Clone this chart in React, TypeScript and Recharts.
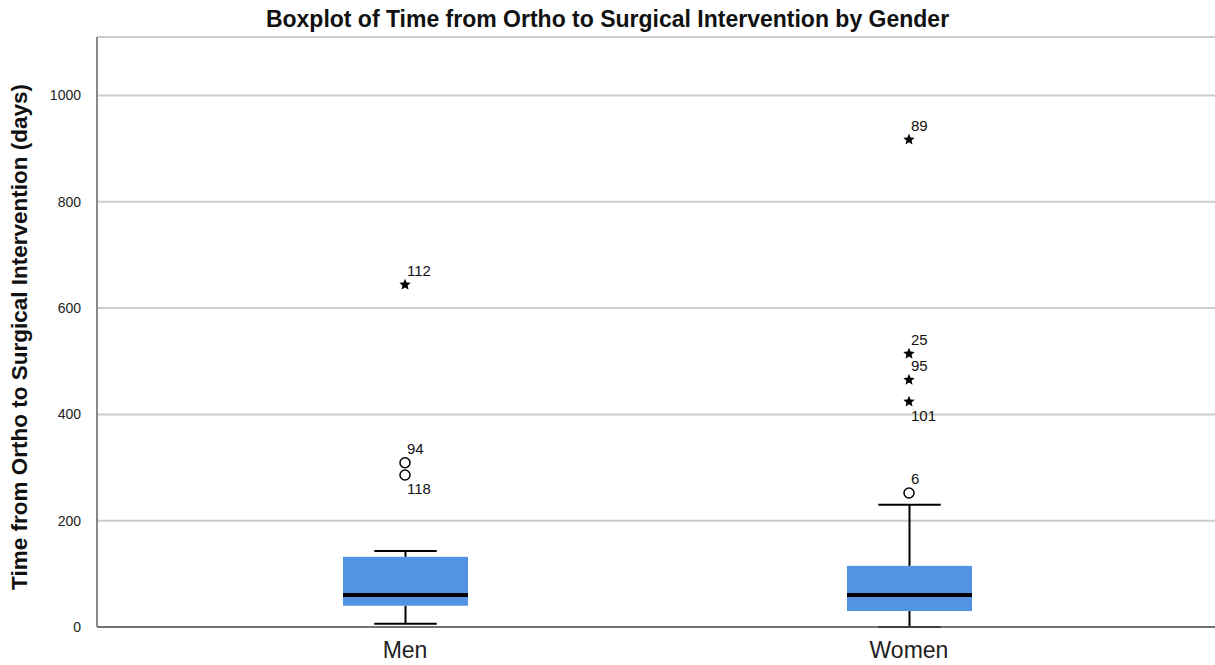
import React from "react";
import {
  ComposedChart,
  Bar,
  Line,
  XAxis,
  YAxis,
  CartesianGrid,
} from "recharts";

const categories = ["Men", "Women"];
const mins = [6, 0];
const q1s = [40, 30];
const medians = [60, 60];
const q3s = [132, 115];
const maxs = [143, 230];

// outliers per group: value, kind (circle = mild, star = extreme), case id
const menOutliers = [
  { v: 644, kind: "star", id: "112", below: false },
  { v: 309, kind: "circle", id: "94", below: false },
  { v: 286, kind: "circle", id: "118", below: true },
];
const womenOutliers = [
  { v: 917, kind: "star", id: "89", below: false },
  { v: 514, kind: "star", id: "25", below: false },
  { v: 465, kind: "star", id: "95", below: false },
  { v: 424, kind: "star", id: "101", below: true },
  { v: 252, kind: "circle", id: "6", below: false },
];
const outlierGroups = [menOutliers, womenOutliers];
const yTicks = [0, 200, 400, 600, 800, 1000];

const MAX_OUT = 5;
const data = categories.map((name, i) => {
  const row: any = {
    name,
    base: mins[i],
    lowW: q1s[i] - mins[i],
    lowBox: medians[i] - q1s[i],
    highBox: q3s[i] - medians[i],
    highW: maxs[i] - q3s[i],
    meta: outlierGroups[i],
  };
  for (let k = 0; k < MAX_OUT; k++) {
    row["o" + k] = outlierGroups[i][k] ? outlierGroups[i][k].v : null;
  }
  return row;
});

const BOX = "#5293e3";

const LowWhisker = (p: any) => {
  const cx = p.x + p.width / 2;
  const cap = p.width / 4;
  return (
    <g>
      <line x1={cx} x2={cx} y1={p.y} y2={p.y + p.height} stroke="#000" strokeWidth={2} />
      <line x1={cx - cap} x2={cx + cap} y1={p.y + p.height} y2={p.y + p.height} stroke="#000" strokeWidth={2} />
    </g>
  );
};

const HighWhisker = (p: any) => {
  const cx = p.x + p.width / 2;
  const cap = p.width / 4;
  return (
    <g>
      <line x1={cx} x2={cx} y1={p.y} y2={p.y + p.height} stroke="#000" strokeWidth={2} />
      <line x1={cx - cap} x2={cx + cap} y1={p.y} y2={p.y} stroke="#000" strokeWidth={2} />
    </g>
  );
};

const LowBox = (p: any) => (
  <rect x={p.x} y={p.y} width={p.width} height={p.height} fill={BOX} />
);

const HighBox = (p: any) => (
  <g>
    <rect x={p.x} y={p.y} width={p.width} height={p.height} fill={BOX} />
    <line x1={p.x} x2={p.x + p.width} y1={p.y + p.height} y2={p.y + p.height} stroke="#000" strokeWidth={4} />
  </g>
);

const starPoints = (cx: number, cy: number, r: number) => {
  const pts: string[] = [];
  for (let i = 0; i < 10; i++) {
    const rr = i % 2 === 0 ? r : r * 0.45;
    const a = -Math.PI / 2 + (i * Math.PI) / 5;
    pts.push(`${cx + rr * Math.cos(a)},${cy + rr * Math.sin(a)}`);
  }
  return pts.join(" ");
};

const makeDot = (k: number) => (p: any) => {
  const o = p.payload && p.payload.meta ? p.payload.meta[k] : null;
  if (!o || p.cy == null || p.cx == null) return <g key={`d${k}-${p.index}`} />;
  return (
    <g key={`d${k}-${p.index}`}>
      {o.kind === "star" ? (
        <polygon points={starPoints(p.cx, p.cy, 6)} fill="#000" />
      ) : (
        <circle cx={p.cx} cy={p.cy} r={5} fill="#fff" stroke="#000" strokeWidth={1.5} />
      )}
      <text
        x={p.cx + 2}
        y={o.below ? p.cy + 19 : p.cy - 9}
        fontSize={15}
        fill="#111"
      >
        {o.id}
      </text>
    </g>
  );
};

export default function App() {
  return (
    <div
      style={{
        position: "absolute",
        left: 0,
        top: 0,
        width: 1215,
        height: 665,
        background: "#fff",
        fontFamily: "'Liberation Sans', Arial, sans-serif",
      }}
    >
      <div
        style={{
          position: "absolute",
          left: 0,
          top: 6,
          width: 1215,
          textAlign: "center",
          fontWeight: "bold",
          fontSize: 23,
          color: "#111",
        }}
      >
        Boxplot of Time from Ortho to Surgical Intervention by Gender
      </div>
      <div
        style={{
          position: "absolute",
          left: 20,
          top: 337,
          width: 0,
          height: 0,
        }}
      >
        <div
          style={{
            position: "absolute",
            left: 0,
            top: 0,
            transform: "translate(-50%, -50%) rotate(-90deg)",
            whiteSpace: "nowrap",
            fontWeight: "bold",
            fontSize: 22.5,
            color: "#111",
          }}
        >
          Time from Ortho to Surgical Intervention (days)
        </div>
      </div>
      <ComposedChart
        width={1215}
        height={665}
        data={data}
        margin={{ top: 37, right: 0, bottom: 0, left: 0 }}
        barCategoryGap={0}
      >
        <CartesianGrid vertical={false} stroke="#cccccc" strokeWidth={2} />
        <XAxis
          dataKey="name"
          padding={{ left: 56, right: 54 }}
          height={38}
          tickLine={false}
          axisLine={{ stroke: "#555", strokeWidth: 1.5 }}
          tick={{ fontSize: 23, fill: "#222" }}
          tickMargin={9}
        />
        <YAxis
          width={97}
          domain={[0, 1110]}
          ticks={yTicks}
          interval={0}
          tickLine={false}
          axisLine={{ stroke: "#888", strokeWidth: 2 }}
          tick={{ fontSize: 14, fill: "#222" }}
          tickMargin={10}
        />
        <Bar dataKey="base" stackId="b" fill="transparent" barSize={125} isAnimationActive={false} />
        <Bar dataKey="lowW" stackId="b" shape={LowWhisker} barSize={125} isAnimationActive={false} />
        <Bar dataKey="lowBox" stackId="b" shape={LowBox} barSize={125} isAnimationActive={false} />
        <Bar dataKey="highBox" stackId="b" shape={HighBox} barSize={125} isAnimationActive={false} />
        <Bar dataKey="highW" stackId="b" shape={HighWhisker} barSize={125} isAnimationActive={false} />
        {Array.from({ length: MAX_OUT }, (_, k) => (
          <Line
            key={k}
            dataKey={"o" + k}
            stroke="none"
            dot={makeDot(k)}
            activeDot={false}
            isAnimationActive={false}
            legendType="none"
          />
        ))}
      </ComposedChart>
    </div>
  );
}
